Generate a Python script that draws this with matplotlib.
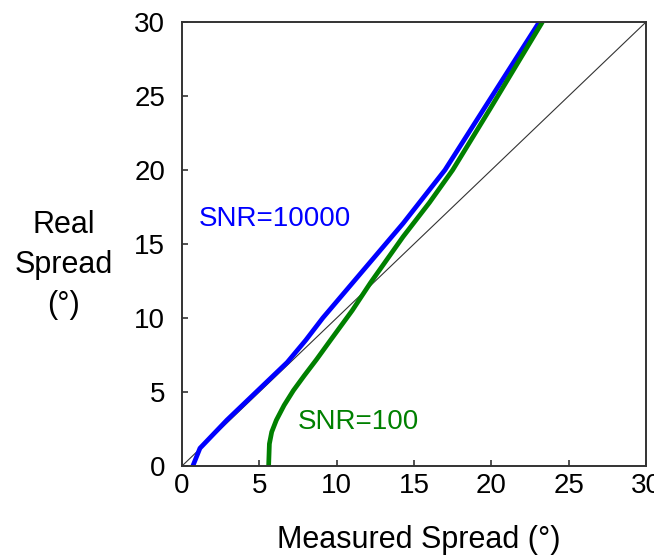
import matplotlib
matplotlib.use("Agg")
import matplotlib.pyplot as plt

# measured vs real spread
snr10000_measured = [0.7, 1.16, 2.9, 4.9, 6.8, 8.0, 9.1, 11.7, 14.3, 17.0, 19.5, 23.1]
snr10000_real = [0.0, 1.2, 3.1, 5.1, 7.0, 8.5, 10.0, 13.2, 16.4, 20.0, 24.1, 30.0]

snr100_measured = [5.6, 5.65, 5.8, 6.1, 6.6, 7.2, 7.9, 8.7, 9.6, 11.0, 12.2,
                   14.3, 16.0, 17.5, 19.9, 23.3]
snr100_real = [0.0, 1.5, 2.3, 3.1, 4.1, 5.1, 6.1, 7.2, 8.5, 10.5, 12.4,
               15.5, 17.8, 20.0, 24.1, 30.0]

ideal = [0, 30]
ticks = [0, 5, 10, 15, 20, 25, 30]

plt.rcParams["font.family"] = ["Liberation Sans", "DejaVu Sans"]
fs = 20

fig = plt.figure(figsize=(6.54, 5.57), dpi=100)
ax = fig.add_axes([0.2783, 0.1634, 0.7095, 0.7971])

ax.plot(ideal, ideal, color="#333333", linewidth=0.8)
ax.plot(snr10000_measured, snr10000_real, color="#0000ff", linewidth=3.4,
        solid_capstyle="butt", solid_joinstyle="round")
ax.plot(snr100_measured, snr100_real, color="#008000", linewidth=3.4,
        solid_capstyle="butt", solid_joinstyle="round")

ax.text(1.1, 16.7, "SNR=10000", color="#0000ff", fontsize=fs, va="center")
ax.text(7.5, 3.0, "SNR=100", color="#008000", fontsize=fs, va="center")

ax.set_xlim(0, 30)
ax.set_ylim(0, 30)
ax.set_xticks(ticks)
ax.set_yticks(ticks)

for s in ax.spines.values():
    s.set_color("#333333")
    s.set_linewidth(1.4)

ax.tick_params(axis="x", direction="in", length=4, width=1.2, color="#333333",
               labelsize=fs, pad=5, top=False)
ax.tick_params(axis="y", direction="in", length=4, width=1.2, color="#333333",
               labelsize=fs, pad=12, right=False)

fig.text(0.097, 0.524, "Real\nSpread\n(°)", ha="center", va="center",
         fontsize=22, linespacing=1.45)
fig.text(0.64, 0.03, "Measured Spread (°)", ha="center", va="center",
         fontsize=22)

fig.savefig("out.png", dpi=100)
